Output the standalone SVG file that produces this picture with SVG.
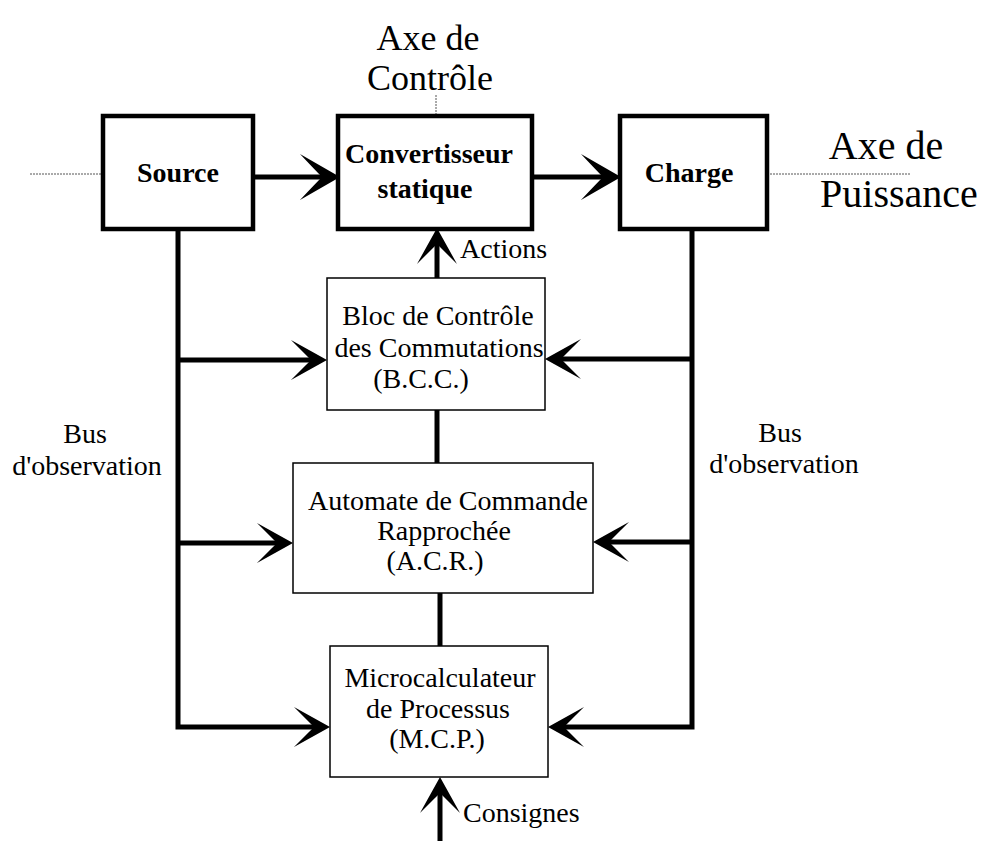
<svg xmlns="http://www.w3.org/2000/svg" width="989" height="841" viewBox="0 0 989 841">
  <style>
    text { font-family: "Liberation Serif", "Times New Roman", serif; fill: #000; }
    .lbl { font-size: 28px; }
    .bold { font-size: 28px; font-weight: bold; }
    .axis-txt { font-size: 36px; }
    .axis-txt-r { font-size: 40px; }
    .mid { text-anchor: middle; }
    .thick-box { fill: #fff; stroke: #000; stroke-width: 4.5; }
    .thin-box { fill: #fff; stroke: #000; stroke-width: 1.5; }
    .wire { fill: none; stroke: #000; stroke-width: 5; stroke-linejoin: miter; }
    .axis { fill: none; stroke: #555; stroke-width: 1; stroke-dasharray: 2 1; }
  </style>
  <defs>
    <!-- barbed arrowhead; the shaft ends at the notch (x = 0), tip sits 16 units ahead -->
    <marker id="head" markerUnits="userSpaceOnUse" orient="auto" viewBox="-24 -24 44 48" refX="0" refY="0" markerWidth="44" markerHeight="48" overflow="visible">
      <path d="M16,0 L-20,-20 Q-6,-6 0,0 Q-6,6 -20,20 Z" fill="#000"/>
    </marker>
    <marker id="head-big" markerUnits="userSpaceOnUse" orient="auto" viewBox="-26 -26 48 52" refX="0" refY="0" markerWidth="48" markerHeight="52" overflow="visible">
      <path d="M18,0 L-22,-23 Q-7,-7 0,0 Q-7,7 -22,23 Z" fill="#000"/>
    </marker>
  </defs>

  <rect width="989" height="841" fill="#fff"/>

  <!-- axes -->
  <g id="axes">
    <line class="axis" x1="30" y1="174" x2="103" y2="174"/>
    <line class="axis" x1="767" y1="174" x2="910" y2="174"/>
    <line class="axis" x1="436" y1="95" x2="436" y2="116"/>
    <text class="axis-txt mid" x="428" y="50">Axe de</text>
    <text class="axis-txt mid" x="430" y="90">Contrôle</text>
    <text class="axis-txt-r mid" x="886" y="159">Axe de</text>
    <text class="axis-txt-r mid" x="899" y="207">Puissance</text>
  </g>

  <!-- connectors -->
  <g id="connectors">
    <!-- power path -->
    <line class="wire" x1="253" y1="177" x2="322" y2="177" marker-end="url(#head-big)"/>
    <line class="wire" x1="532" y1="177" x2="603" y2="177" marker-end="url(#head-big)"/>
    <!-- control chain -->
    <line class="wire" x1="437" y1="278" x2="437" y2="244" marker-end="url(#head)"/>
    <line class="wire" x1="437" y1="410" x2="437" y2="463"/>
    <line class="wire" x1="440" y1="593" x2="440" y2="646"/>
    <line class="wire" x1="440" y1="841" x2="440" y2="793" marker-end="url(#head)"/>
    <!-- left observation bus -->
    <polyline class="wire" points="178,229 178,727 314,727" marker-end="url(#head)"/>
    <line class="wire" x1="178" y1="360" x2="311" y2="360" marker-end="url(#head)"/>
    <line class="wire" x1="178" y1="543" x2="277" y2="543" marker-end="url(#head)"/>
    <!-- right observation bus -->
    <polyline class="wire" points="692,229 692,727 564,727" marker-end="url(#head)"/>
    <line class="wire" x1="692" y1="359" x2="561" y2="359" marker-end="url(#head)"/>
    <line class="wire" x1="692" y1="542" x2="609" y2="542" marker-end="url(#head)"/>
  </g>

  <g id="source">
    <rect class="thick-box" x="103" y="116" width="150" height="113"/>
    <text class="bold mid" x="178" y="182">Source</text>
  </g>

  <g id="convertisseur">
    <rect class="thick-box" x="338" y="116" width="194" height="113"/>
    <text class="bold mid" x="429" y="163">Convertisseur</text>
    <text class="bold mid" x="425" y="198">statique</text>
  </g>

  <g id="charge">
    <rect class="thick-box" x="620" y="116" width="147" height="113"/>
    <text class="bold mid" x="689" y="182">Charge</text>
  </g>

  <g id="bcc">
    <rect class="thin-box" x="327" y="278" width="218" height="132"/>
    <text class="lbl mid" x="438" y="325">Bloc de Contrôle</text>
    <text class="lbl mid" x="439" y="357">des Commutations</text>
    <text class="lbl mid" x="421" y="388">(B.C.C.)</text>
  </g>

  <g id="acr">
    <rect class="thin-box" x="293" y="463" width="300" height="130"/>
    <text class="lbl mid" x="448" y="510">Automate de Commande</text>
    <text class="lbl mid" x="444" y="540">Rapprochée</text>
    <text class="lbl mid" x="435" y="570">(A.C.R.)</text>
  </g>

  <g id="mcp">
    <rect class="thin-box" x="330" y="646" width="218" height="131"/>
    <text class="lbl mid" x="440" y="687">Microcalculateur</text>
    <text class="lbl mid" x="438" y="718">de Processus</text>
    <text class="lbl mid" x="437" y="748">(M.C.P.)</text>
  </g>

  <g id="labels">
    <text class="lbl" x="460" y="258">Actions</text>
    <text class="lbl" x="463" y="822">Consignes</text>
    <text class="lbl mid" x="85" y="443">Bus</text>
    <text class="lbl mid" x="87" y="475">d'observation</text>
    <text class="lbl mid" x="780" y="442">Bus</text>
    <text class="lbl mid" x="784" y="473">d'observation</text>
  </g>
</svg>
